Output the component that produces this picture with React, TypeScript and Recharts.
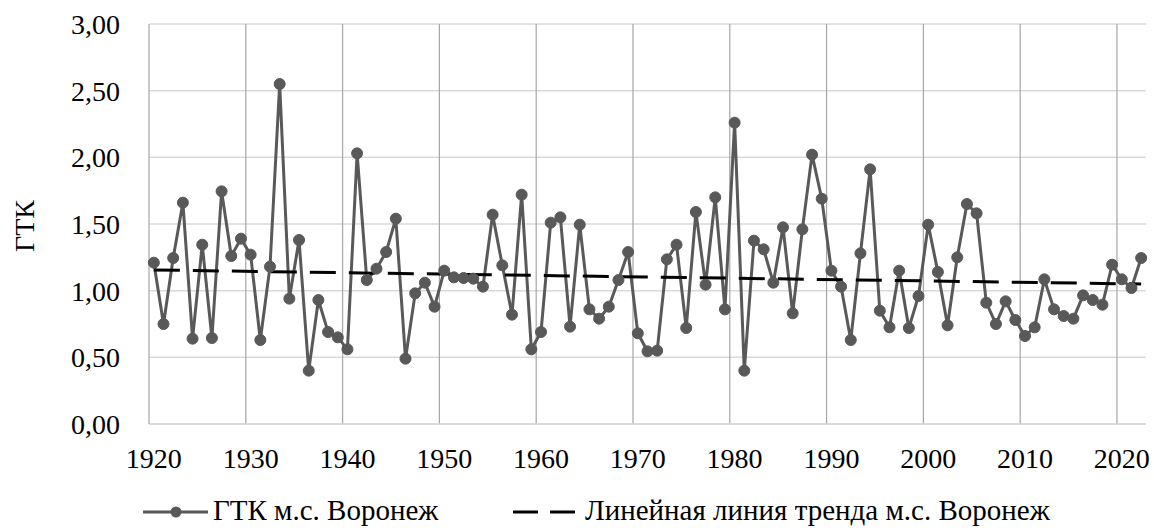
import {
  LineChart,
  Line,
  XAxis,
  YAxis,
  CartesianGrid,
  ReferenceLine,
  Legend,
  Label,
} from "recharts";

const years = [
  1920, 1921, 1922, 1923, 1924, 1925, 1926, 1927, 1928, 1929,
  1930, 1931, 1932, 1933, 1934, 1935, 1936, 1937, 1938, 1939,
  1940, 1941, 1942, 1943, 1944, 1945, 1946, 1947, 1948, 1949,
  1950, 1951, 1952, 1953, 1954, 1955, 1956, 1957, 1958, 1959,
  1960, 1961, 1962, 1963, 1964, 1965, 1966, 1967, 1968, 1969,
  1970, 1971, 1972, 1973, 1974, 1975, 1976, 1977, 1978, 1979,
  1980, 1981, 1982, 1983, 1984, 1985, 1986, 1987, 1988, 1989,
  1990, 1991, 1992, 1993, 1994, 1995, 1996, 1997, 1998, 1999,
  2000, 2001, 2002, 2003, 2004, 2005, 2006, 2007, 2008, 2009,
  2010, 2011, 2012, 2013, 2014, 2015, 2016, 2017, 2018, 2019,
  2020, 2021, 2022,
];

const gtk = [
  1.21, 0.75, 1.245, 1.66, 0.64, 1.345, 0.645, 1.745, 1.26, 1.39,
  1.27, 0.63, 1.18, 2.55, 0.94, 1.38, 0.4, 0.93, 0.69, 0.65,
  0.56, 2.03, 1.08, 1.165, 1.29, 1.54, 0.49, 0.98, 1.06, 0.88,
  1.15, 1.1, 1.095, 1.09, 1.03, 1.57, 1.19, 0.82, 1.72, 0.56,
  0.69, 1.51, 1.55, 0.73, 1.495, 0.86, 0.79, 0.88, 1.08, 1.29,
  0.68, 0.545, 0.55, 1.235, 1.345, 0.72, 1.59, 1.045, 1.7, 0.86,
  2.26, 0.4, 1.375, 1.31, 1.06, 1.475, 0.83, 1.46, 2.02, 1.69,
  1.15, 1.03, 0.63, 1.28, 1.91, 0.85, 0.725, 1.15, 0.72, 0.96,
  1.495, 1.14, 0.74, 1.25, 1.65, 1.58, 0.91, 0.75, 0.92, 0.78,
  0.66, 0.725, 1.085, 0.86, 0.81, 0.79, 0.965, 0.93, 0.895, 1.195,
  1.085, 1.02, 1.245,
];

// linear trend: value at first and last year
const trendYears = [1920, 2022];
const trendValues = [1.155, 1.05];

const xTicks = [1920, 1930, 1940, 1950, 1960, 1970, 1980, 1990, 2000, 2010, 2020];
const yTicks = [0, 0.5, 1, 1.5, 2, 2.5, 3];
const decadeLines = [
  1929.5, 1939.5, 1949.5, 1959.5, 1969.5, 1979.5, 1989.5, 1999.5, 2009.5, 2019.5,
];

const seriesName = "ГТК м.с. Воронеж";
const trendName = "Линейная линия тренда м.с. Воронеж";
const yTitle = "ГТК";

const data = years.map((year, i) => {
  const t = trendYears.indexOf(year);
  return {
    year,
    gtk: gtk[i],
    trend: t >= 0 ? trendValues[t] : null,
  };
});

const FONT = "Liberation Serif";
const GRAY = "#595959";

const fmt = (v: number) => v.toFixed(2).replace(".", ",");

const LegendBox = () => (
  <div style={{ position: "relative", width: 1154, height: 44, fontFamily: FONT, fontSize: 29, color: "#000" }}>
    <svg width={1154} height={44} style={{ position: "absolute", left: 0, top: 0 }}>
      <line x1={143} x2={208} y1={28} y2={28} stroke={GRAY} strokeWidth={3} />
      <circle cx={176} cy={28} r={5.5} fill={GRAY} />
      <line x1={513} x2={576} y1={28} y2={28} stroke="#000" strokeWidth={3} strokeDasharray="25 12" />
    </svg>
    <span style={{ position: "absolute", left: 213, top: 9, lineHeight: "34px", whiteSpace: "nowrap" }}>{seriesName}</span>
    <span style={{ position: "absolute", left: 585, top: 9, lineHeight: "34px", whiteSpace: "nowrap" }}>{trendName}</span>
  </div>
);

const YTitle = () => (
  <text
    x={0}
    y={0}
    transform="translate(34, 226) rotate(-90)"
    textAnchor="middle"
    fontFamily={FONT}
    fontSize={28}
    fill="#000"
  >
    {yTitle}
  </text>
);

export default function App() {
  return (
    <div style={{ position: "absolute", left: 0, top: 0, width: 1154, height: 528, background: "#fff" }}>
      <LineChart
        width={1154}
        height={528}
        data={data}
        margin={{ top: 24, right: 8, bottom: 0, left: 0 }}
      >
        <CartesianGrid vertical={false} stroke="#d9d9d9" strokeWidth={1.5} />
        {decadeLines.map((x) => (
          <ReferenceLine key={x} x={x} stroke="#a6a6a6" strokeWidth={1.2} />
        ))}
        <XAxis
          dataKey="year"
          type="number"
          domain={[1919.5, 2022.5]}
          ticks={xTicks}
          tickLine={false}
          axisLine={{ stroke: "#d9d9d9", strokeWidth: 1.5 }}
          tick={{ fill: "#000", fontSize: 28, fontFamily: FONT }}
          tickSize={0}
          tickMargin={24}
          height={60}
          interval={0}
        />
        <YAxis
          type="number"
          domain={[0, 3]}
          ticks={yTicks}
          tickFormatter={fmt}
          tickLine={false}
          axisLine={{ stroke: "#a6a6a6", strokeWidth: 1.2 }}
          tick={{ fill: "#000", fontSize: 28, fontFamily: FONT }}
          tickSize={0}
          tickMargin={29}
          width={149}
        >
          <Label content={() => <YTitle />} />
        </YAxis>
        <Line
          dataKey="gtk"
          name={seriesName}
          stroke={GRAY}
          strokeWidth={3}
          dot={{ r: 5.5, fill: GRAY, stroke: GRAY, strokeWidth: 1 }}
          activeDot={false}
          isAnimationActive={false}
        />
        <Line
          dataKey="trend"
          name={trendName}
          stroke="#000"
          strokeWidth={3}
          strokeDasharray="26 13"
          dot={false}
          activeDot={false}
          connectNulls
          isAnimationActive={false}
        />
        <Legend
          verticalAlign="bottom"
          content={() => <LegendBox />}
          wrapperStyle={{ left: 0, width: 1154, height: 44 }}
        />
      </LineChart>
    </div>
  );
}
